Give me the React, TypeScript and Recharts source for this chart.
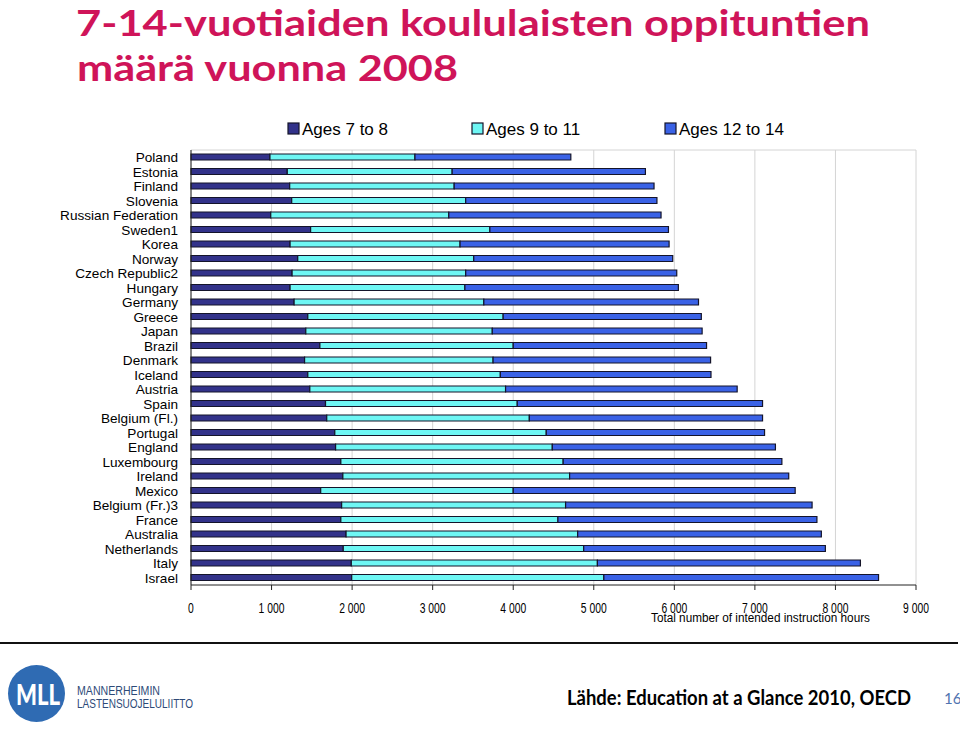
import React from "react";
import { BarChart, Bar, XAxis, YAxis, CartesianGrid } from "recharts";

const countries = [
  "Poland", "Estonia", "Finland", "Slovenia", "Russian Federation", "Sweden1", "Korea", "Norway",
  "Czech Republic2", "Hungary", "Germany", "Greece", "Japan", "Brazil", "Denmark", "Iceland",
  "Austria", "Spain", "Belgium (Fl.)", "Portugal", "England", "Luxembourg", "Ireland", "Mexico",
  "Belgium (Fr.)3", "France", "Australia", "Netherlands", "Italy", "Israel",
];
const ages7to8 = [
  980, 1195, 1225, 1250, 990, 1485, 1230, 1325, 1255, 1230, 1280, 1450, 1425, 1600, 1410, 1450,
  1475, 1670, 1685, 1785, 1795, 1860, 1885, 1610, 1870, 1860, 1925, 1890, 1990, 1995,
];
const ages9to11 = [
  1800, 2047, 2042, 2160, 2210, 2225, 2110, 2185, 2155, 2170, 2355, 2425, 2315, 2400, 2340, 2390,
  2430, 2380, 2515, 2625, 2690, 2760, 2815, 2390, 2780, 2695, 2875, 2985, 3055, 3130,
];
const ages12to14 = [
  1935, 2399, 2481, 2374, 2635, 2217, 2595, 2470, 2620, 2650, 2665, 2460, 2605, 2400, 2700, 2615,
  2875, 3045, 2895, 2710, 2770, 2715, 2720, 3500, 3060, 3215, 3025, 3000, 3265, 3410,
];
const xTicks = [0, 1000, 2000, 3000, 4000, 5000, 6000, 7000, 8000, 9000];
const seriesNames = ["Ages 7 to 8", "Ages 9 to 11", "Ages 12 to 14"];
const colors = ["#32328a", "#6ef6f4", "#3a62e6"];

const data = countries.map((c, i) => ({
  country: c,
  a: ages7to8[i],
  b: ages9to11[i],
  c: ages12to14[i],
}));

const fmt = (v: number) => (v >= 1000 ? `${Math.floor(v / 1000)} ${String(v % 1000).padStart(3, "0")}` : String(v));

const sans = "'Liberation Sans', Arial, sans-serif";
const calib = "Lato, 'Open Sans', sans-serif";

const XTick = (props: any) => {
  const { x, y, payload } = props;
  return (
    <g transform={`translate(${x},${y})`}>
      <text
        transform="scale(0.74,1)"
        textAnchor="middle"
        dy={13}
        fontFamily={sans}
        fontSize={14}
        fill="#000"
        stroke="none"
      >
        {fmt(payload.value)}
      </text>
    </g>
  );
};

const YTick = (props: any) => {
  const { x, y, payload } = props;
  return (
    <text
      x={x}
      y={y}
      dy={5}
      textAnchor="end"
      fontFamily={sans}
      fontSize={13.6}
      fill="#000"
      stroke="none"
    >
      {payload.value}
    </text>
  );
};

export default function App() {
  return (
    <div style={{ position: "absolute", left: 0, top: 0, width: 960, height: 739, background: "#fff" }}>
      <div style={{ position: "absolute", left: 0, top: 0 }}>
        <BarChart
          width={960}
          height={739}
          data={data}
          layout="vertical"
          margin={{ top: 150, right: 44, bottom: 124, left: 0 }}
          barSize={6}
        >
          <CartesianGrid
            stroke="#d4d4d4"
            strokeWidth={1}
            vertical={true}
            horizontal={true}
            horizontalCoordinatesGenerator={(args: any) => (args && args.offset ? [args.offset.top] : [])}
          />
          <XAxis
            type="number"
            domain={[0, 9000]}
            ticks={xTicks}
            interval={0}
            height={30}
            tickSize={5}
            tickMargin={10}
            axisLine={{ stroke: "#222", strokeWidth: 1 }}
            tickLine={{ stroke: "#222" }}
            tick={<XTick />}
          />
          <YAxis
            type="category"
            dataKey="country"
            width={191}
            tickSize={6}
            tickMargin={7}
            interval={0}
            tickLine={false}
            axisLine={{ stroke: "#222", strokeWidth: 1 }}
            tick={<YTick />}
          />
          <Bar dataKey="a" name={seriesNames[0]} stackId="s" fill={colors[0]} stroke="#14142a" strokeWidth={1.2} isAnimationActive={false} />
          <Bar dataKey="b" name={seriesNames[1]} stackId="s" fill={colors[1]} stroke="#14142a" strokeWidth={1.2} isAnimationActive={false} />
          <Bar dataKey="c" name={seriesNames[2]} stackId="s" fill={colors[2]} stroke="#14142a" strokeWidth={1.2} isAnimationActive={false} />
        </BarChart>
      </div>
      <svg
        width={960}
        height={739}
        style={{ position: "absolute", left: 0, top: 0, pointerEvents: "none" }}
      >
        <text x={76} y={36} fontFamily={calib} fontWeight={700} fontSize={37} fill="#cf1459" textLength={794} lengthAdjust="spacingAndGlyphs">
          7-14-vuotiaiden koululaisten oppituntien
        </text>
        <text x={77} y={81} fontFamily={calib} fontWeight={700} fontSize={37} fill="#cf1459" textLength={381} lengthAdjust="spacingAndGlyphs">
          määrä vuonna 2008
        </text>

        {[288, 472, 665].map((lx, i) => (
          <g key={i}>
            <rect x={lx} y={123} width={11} height={11} fill={colors[i]} stroke="#14142a" strokeWidth={1.2} />
            <text x={lx + 14} y={134.5} fontFamily={sans} fontSize={17} fill="#000">
              {seriesNames[i]}
            </text>
          </g>
        ))}

        <text x={651} y={622} fontFamily={sans} fontSize={12} fill="#000" textLength={219} lengthAdjust="spacingAndGlyphs">
          Total number of intended instruction hours
        </text>

        <line x1={0} y1={643} x2={958} y2={643} stroke="#111" strokeWidth={2.2} />

        <circle cx={36.5} cy={693.5} r={28.5} fill="#2f6bb3" />
        <text x={38} y={705} textAnchor="middle" fontFamily={calib} fontWeight={900} fontSize={28} fill="#fff" textLength={44} lengthAdjust="spacingAndGlyphs">
          MLL
        </text>
        <text x={77} y={695} fontFamily={sans} fontSize={12} fill="#2d4a78" textLength={83} lengthAdjust="spacingAndGlyphs">
          MANNERHEIMIN
        </text>
        <text x={77} y={707.5} fontFamily={sans} fontSize={12} fill="#2d4a78" textLength={116} lengthAdjust="spacingAndGlyphs">
          LASTENSUOJELULIITTO
        </text>

        <text x={567} y={705} fontFamily={calib} fontWeight={700} fontSize={20} fill="#000" textLength={344} lengthAdjust="spacingAndGlyphs">
          Lähde: Education at a Glance 2010, OECD
        </text>
        <text x={944} y={704} fontFamily={calib} fontSize={15} fill="#4f74b0">
          16
        </text>
      </svg>
    </div>
  );
}
